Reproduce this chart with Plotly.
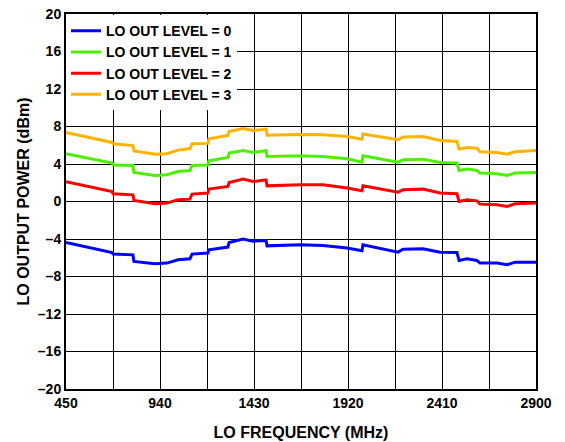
import plotly.graph_objects as go

# LO frequency (MHz)
freq = [450, 560, 690, 695, 799, 804, 914, 976, 1034, 1096, 1107, 1190, 1195,
        1294, 1300, 1373, 1425, 1493, 1498, 1670, 1790, 1915, 1993, 1998, 2087,
        2181, 2207, 2311, 2400, 2488, 2499, 2540, 2592, 2608, 2697, 2749, 2791, 2900]

level0 = [-4.37, -4.85, -5.44, -5.61, -5.69, -6.40, -6.65, -6.57, -6.22, -6.11, -5.61, -5.50, -5.15,
          -4.86, -4.37, -4.00, -4.23, -4.16, -4.73, -4.62, -4.69, -4.97, -5.26, -4.62, -4.97,
          -5.40, -5.08, -5.05, -5.40, -5.44, -6.29, -6.11, -6.29, -6.57, -6.57, -6.75, -6.47, -6.47]

level1 = [5.09, 4.60, 4.10, 3.90, 3.84, 3.09, 2.77, 2.85, 3.20, 3.31, 3.84, 3.90, 4.34,
          4.69, 5.16, 5.44, 5.23, 5.41, 4.80, 4.87, 4.80, 4.55, 4.20, 4.87, 4.52,
          4.20, 4.45, 4.52, 4.16, 4.10, 3.31, 3.46, 3.31, 3.03, 2.95, 2.77, 3.03, 3.09]

level2 = [2.10, 1.60, 1.07, 0.82, 0.71, 0.11, -0.25, -0.17, 0.18, 0.25, 0.79, 0.90, 1.32,
          1.60, 2.03, 2.39, 2.13, 2.31, 1.67, 1.78, 1.78, 1.43, 1.14, 1.67, 1.32,
          1.00, 1.25, 1.32, 0.90, 0.82, 0.00, 0.18, 0.07, -0.28, -0.35, -0.53, -0.25, -0.17]

level3 = [7.36, 6.85, 6.30, 6.15, 5.97, 5.40, 5.05, 5.09, 5.48, 5.65, 6.15, 6.20, 6.69,
          7.04, 7.47, 7.79, 7.57, 7.72, 7.08, 7.15, 7.11, 6.93, 6.65, 7.19, 6.93,
          6.58, 6.87, 6.93, 6.50, 6.40, 5.59, 5.76, 5.69, 5.30, 5.23, 5.05, 5.30, 5.44]

series_names = ["LO OUT LEVEL = 0", "LO OUT LEVEL = 1", "LO OUT LEVEL = 2", "LO OUT LEVEL = 3"]
series_colors = ["#0000FF", "#4CF000", "#FF0000", "#FFB300"]

x_tickvals = [450, 695, 940, 1185, 1430, 1675, 1920, 2165, 2410, 2655, 2900]
x_ticktext = ["450", "", "940", "", "1430", "", "1920", "", "2410", "", "2900"]
y_tickvals = [-20, -16, -12, -8, -4, 0, 4, 8, 12, 16, 20]
y_ticktext = ["–20", "–16", "–12", "–8", "–4", "0", "4", "8", "12", "16", "20"]

FONT = "Liberation Sans, Arial, sans-serif"

fig = go.Figure()
for name, vals, col in zip(series_names, [level0, level1, level2, level3], series_colors):
    fig.add_trace(go.Scatter(x=freq, y=vals, mode="lines", name=name,
                             line=dict(color=col, width=3)))

fig.update_layout(
    width=565, height=442, autosize=False,
    margin=dict(l=66, r=29, t=14, b=53),
    paper_bgcolor="white", plot_bgcolor="white",
    font=dict(family=FONT, size=14, color="black"),
    showlegend=True,
    legend=dict(x=0.0, y=0.997, xanchor="left", yanchor="top",
                bgcolor="white", borderwidth=0,
                font=dict(family=FONT, size=14, color="black", weight="bold"),
                tracegroupgap=0, itemwidth=30),
    xaxis=dict(range=[450, 2900], tickmode="array", tickvals=x_tickvals, ticktext=x_ticktext,
               showgrid=True, gridcolor="black", gridwidth=1,
               showline=True, linecolor="black", linewidth=2, mirror=True,
               ticks="", zeroline=False, automargin=False,
               tickfont=dict(family=FONT, size=14, color="black", weight="bold"),
               title=dict(text="LO FREQUENCY (MHz)", standoff=17,
                          font=dict(family=FONT, size=16, color="black", weight="bold"))),
    yaxis=dict(range=[-20, 20], tickmode="array", tickvals=y_tickvals, ticktext=y_ticktext,
               showgrid=True, gridcolor="black", gridwidth=1,
               showline=True, linecolor="black", linewidth=2, mirror=True,
               ticks="", zeroline=False, automargin=False,
               tickfont=dict(family=FONT, size=14, color="black", weight="bold"),
               title=dict(text="LO OUTPUT POWER (dBm)", standoff=4,
                          font=dict(family=FONT, size=16, color="black", weight="bold"))),
)

fig.write_html("out.html", config={"displayModeBar": False},
               post_script="document.body.style.margin='0';document.body.style.overflow='hidden';")
